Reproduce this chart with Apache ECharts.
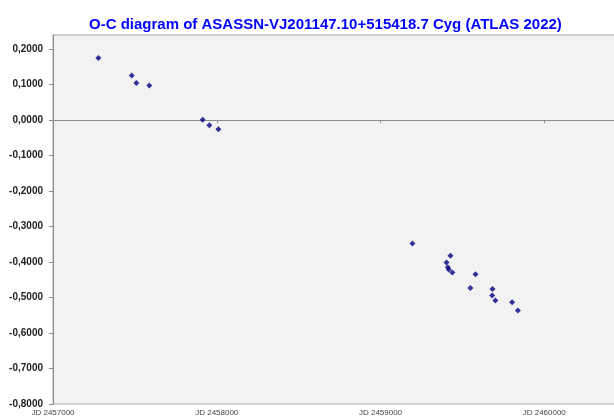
<!DOCTYPE html>
<html>
<head>
<meta charset="utf-8">
<script src="https://cdn.jsdelivr.net/npm/echarts@6/dist/echarts.min.js"></script>
<style>
  html, body { margin: 0; padding: 0; background: #fff; }
  #chart { width: 614px; height: 417px; }
</style>
</head>
<body>
<div id="chart"></div>
<script>
// O-C values (JD, days)
const jd = [
  2457277, 2457481, 2457509, 2457588, 2457914, 2457955, 2458010,
  2459195, 2459427, 2459403, 2459411, 2459417, 2459439, 2459580,
  2459549, 2459684, 2459682, 2459702, 2459804, 2459839
]
const oc = [
  0.1750, 0.1260, 0.1045, 0.0977, 0.0010, -0.0141, -0.0254,
  -0.3475, -0.3825, -0.4011, -0.4144, -0.4209, -0.4294, -0.4342,
  -0.4729, -0.4757, -0.4944, -0.5085, -0.5133, -0.5367
]
const xMin = 2457000
const xMax = 2461000
const xStep = 1000
const yMin = -0.8
const yMax = 0.24
const yStep = 0.1

const points = jd.map(function (d, i) { return [d, oc[i]] })

function fmtOC(v) {
  if (Math.abs(v) < 1e-9) v = 0
  return v.toFixed(4).replace('.', ',')
}

const chart = echarts.init(document.getElementById('chart'))

// the plot area runs past the right edge of the picture, so the grid is wider than the canvas
const axisBase = { type: 'value', min: xMin, max: xMax, interval: xStep, splitLine: { show: false } }

chart.setOption({
  backgroundColor: '#ffffff',
  animation: false,
  title: {
    text: 'O-C diagram of ASASSN-VJ201147.10+515418.7 Cyg (ATLAS 2022)',
    left: 89,
    top: 17,
    padding: 0,
    textStyle: { color: '#0000ff', fontSize: 15, fontWeight: 'bold', fontFamily: 'Liberation Sans, Arial, sans-serif' }
  },
  grid: {
    left: 53, top: 35, width: 655, height: 369,
    outerBoundsMode: 'none',
    containLabel: false,
    show: true, backgroundColor: '#f2f2f2', borderColor: '#a6a6a6', borderWidth: 1
  },
  xAxis: [
    // labels along the bottom edge
    Object.assign({}, axisBase, {
      position: 'bottom',
      axisLine: { show: false, onZero: false },
      axisTick: { show: false },
      axisLabel: {
        margin: 5, fontSize: 8, color: '#444',
        fontFamily: 'Liberation Sans, Arial, sans-serif',
        formatter: function (v) { return 'JD ' + v }
      }
    }),
    // axis line at O-C = 0
    Object.assign({}, axisBase, {
      position: 'bottom',
      axisLine: { show: true, onZero: true, lineStyle: { color: '#8c8c8c', width: 1 } },
      axisTick: { show: true, length: 3, lineStyle: { color: '#8c8c8c' } },
      axisLabel: { show: false }
    })
  ],
  yAxis: {
    type: 'value',
    min: yMin, max: yMax, interval: yStep,
    splitLine: { show: false },
    axisLine: { show: true, lineStyle: { color: '#8c8c8c', width: 1 } },
    axisTick: { show: true, length: 4, lineStyle: { color: '#8c8c8c' } },
    axisLabel: {
      showMaxLabel: false,
      margin: 10, fontSize: 10, fontWeight: 'bold', color: '#222',
      fontFamily: 'Liberation Sans, Arial, sans-serif',
      formatter: fmtOC
    }
  },
  series: [{
    type: 'scatter',
    xAxisIndex: 0,
    symbol: 'diamond',
    symbolSize: 6,
    itemStyle: { color: '#000080' },
    data: points
  }]
})
</script>
</body>
</html>
